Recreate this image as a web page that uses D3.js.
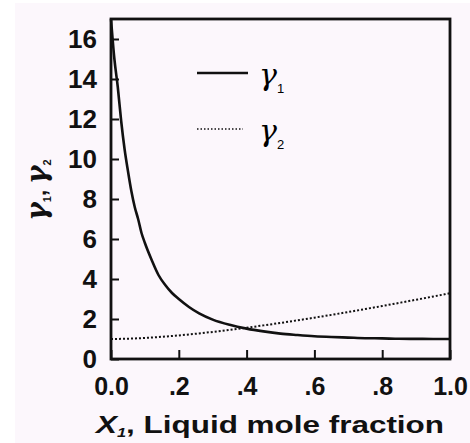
<!DOCTYPE html>
<html lang="en">
<head>
    <meta charset="UTF-8">
    <title>Activity coefficients</title>
    <script src="https://d3js.org/d3.v7.min.js"></script>
    <style>
        body { margin: 0; background: #ffffff; }
        text { font-family: "Liberation Sans", Arial, sans-serif; }
    </style>
</head>
<body>
    <div id="chart"></div>
    <script>
        // values
        const x1 = [0, 0.01, 0.02, 0.03, 0.04, 0.05, 0.06, 0.07, 0.08, 0.09, 0.10, 0.12, 0.14, 0.16, 0.18, 0.20,
                    0.23, 0.26, 0.30, 0.35, 0.40, 0.45, 0.50, 0.55, 0.60, 0.65, 0.70, 0.75, 0.80, 0.85, 0.90, 0.95, 1.00];
        const gamma1 = [17.0, 15.0, 13.6, 11.9, 10.5, 9.4, 8.4, 7.6, 7.0, 6.3, 5.8, 4.95, 4.2, 3.7, 3.3, 3.0,
                        2.6, 2.28, 1.97, 1.71, 1.52, 1.38, 1.27, 1.20, 1.14, 1.10, 1.07, 1.04, 1.03, 1.01, 1.006, 1.001, 1.0];
        const x2pts = [0, 0.05, 0.10, 0.15, 0.20, 0.25, 0.30, 0.35, 0.40, 0.45, 0.50, 0.55, 0.60, 0.65, 0.70, 0.75, 0.80, 0.85, 0.90, 0.95, 1.00];
        const gamma2 = [1.0, 1.015, 1.053, 1.11, 1.18, 1.262, 1.354, 1.455, 1.564, 1.681, 1.804, 1.933, 2.067, 2.206, 2.35, 2.498, 2.65, 2.805, 2.963, 3.123, 3.287];
        const yTicks = [0, 2, 4, 6, 8, 10, 12, 14, 16];
        const xTicks = [0, 0.2, 0.4, 0.6, 0.8, 1.0];
        const xTickLabels = ["0.0", ".2", ".4", ".6", ".8", "1.0"];

        const W = 470, H = 443;
        const plot = {left: 111, right: 450, top: 19, bottom: 359};
        const gammaFont = '"DejaVu Serif", serif';

        const svg = d3.select('#chart')
            .append('svg')
                .attr('width', W)
                .attr('height', H);

        svg.append('rect')
            .attr('x', 15).attr('y', 3)
            .attr('width', W - 15).attr('height', H - 3)
            .attr('fill', '#fcf7fc');

        const x = d3.scaleLinear().domain([0, 1]).range([plot.left, plot.right]);
        const y = d3.scaleLinear().domain([0, 17]).range([plot.bottom, plot.top]);

        // Y axis
        const yAxis = svg.append('g')
            .attr('transform', `translate(${plot.left}, 0)`)
            .call(d3.axisLeft(y).tickValues(yTicks).tickSize(-8).tickPadding(14).tickFormat(d3.format('d')));
        yAxis.selectAll('text')
            .style('font-size', '26px').style('font-weight', 'bold').attr('fill', '#111');

        // X axis
        const xAxis = svg.append('g')
            .attr('transform', `translate(0, ${plot.bottom})`)
            .call(d3.axisBottom(x).tickValues(xTicks).tickSize(-9).tickPadding(18)
                .tickFormat((d, i) => xTickLabels[i]));
        xAxis.selectAll('text')
            .style('font-size', '25px').style('font-weight', 'bold').attr('fill', '#111');

        svg.selectAll('.domain').remove();
        svg.selectAll('.tick line').attr('stroke', '#111').attr('stroke-width', 2);

        // frame
        svg.append('rect')
            .attr('x', plot.left).attr('y', plot.top)
            .attr('width', plot.right - plot.left).attr('height', plot.bottom - plot.top)
            .attr('fill', 'none')
            .attr('stroke', '#111')
            .attr('stroke-width', 2.8);

        // curves
        const line = d3.line()
            .x(d => x(d[0]))
            .y(d => y(d[1]))
            .curve(d3.curveMonotoneX);

        svg.append('path')
            .datum(x1.map((v, i) => [v, gamma1[i]]))
            .attr('d', line)
            .attr('fill', 'none')
            .attr('stroke', '#111')
            .attr('stroke-width', 2.6);

        svg.append('path')
            .datum(x2pts.map((v, i) => [v, gamma2[i]]))
            .attr('d', line)
            .attr('fill', 'none')
            .attr('stroke', '#111')
            .attr('stroke-width', 2)
            .attr('stroke-dasharray', '2,2');

        // legend
        const legend = [
            {sub: '1', dash: null, y: 73},
            {sub: '2', dash: '1.5,2', y: 129}
        ];
        legend.forEach(l => {
            svg.append('line')
                .attr('x1', 197).attr('x2', l.dash ? 243 : 248)
                .attr('y1', l.y).attr('y2', l.y)
                .attr('stroke', '#111')
                .attr('stroke-width', l.dash ? 1.5 : 2.6)
                .attr('stroke-dasharray', l.dash);
            const t = svg.append('text')
                .attr('x', 259).attr('y', l.y + 12);
            t.append('tspan')
                .style('font-family', gammaFont)
                .style('font-style', 'italic')
                .style('font-size', '30px')
                .text('γ');
            t.append('tspan')
                .attr('dx', 0).attr('dy', 8)
                .style('font-size', '13px')
                .text(l.sub);
        });

        // y title
        const yt = svg.append('text')
            .attr('transform', 'translate(46, 190) rotate(-90)')
            .attr('text-anchor', 'middle')
            .style('font-weight', 'bold')
            .attr('fill', '#111');
        yt.append('tspan')
            .style('font-family', gammaFont).style('font-style', 'italic').style('font-size', '28px')
            .text('γ');
        yt.append('tspan').attr('dy', 5).style('font-size', '11px').text('1');
        yt.append('tspan').attr('dy', -5).style('font-size', '22px').text(', ');
        yt.append('tspan')
            .style('font-family', gammaFont).style('font-style', 'italic').style('font-size', '28px')
            .text('γ');
        yt.append('tspan').attr('dy', 5).style('font-size', '11px').text('2');

        // x title
        const xt = svg.append('text')
            .attr('x', 96).attr('y', 433)
            .attr('textLength', 348)
            .attr('lengthAdjust', 'spacingAndGlyphs')
            .style('font-weight', 'bold')
            .style('font-size', '23px')
            .attr('fill', '#111');
        xt.append('tspan').style('font-style', 'italic').text('X');
        xt.append('tspan').style('font-style', 'italic').style('font-size', '12px').attr('dy', 4).text('1');
        xt.append('tspan').attr('dy', -4).text(', Liquid mole fraction');
    </script>
</body>
</html>
